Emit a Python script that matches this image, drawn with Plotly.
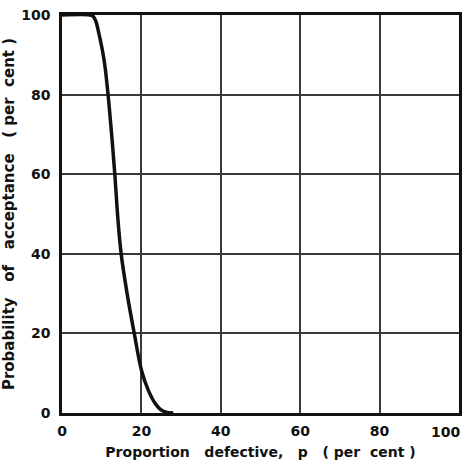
import plotly.graph_objects as go

# Proportion defective p (per cent) and probability of acceptance (per cent)
p_defective = [0, 7, 7.8, 8.5, 9.1, 10.6, 11.6, 12.5, 13.3, 14.1, 14.9, 16.4, 18.2, 20.0, 21.7, 23.4, 24.7, 26.0, 28.0]
prob_accept = [100, 100, 99.7, 98.5, 96.2, 88.7, 80, 70, 60, 48.5, 40, 30, 20, 10.8, 5.8, 2.5, 1.0, 0.3, 0]

x_ticks = [0, 20, 40, 60, 80, 100]
y_ticks = [0, 20, 40, 60, 80, 100]

fig = go.Figure()
fig.add_trace(go.Scatter(
    x=p_defective, y=prob_accept, mode="lines",
    line=dict(color="#111111", width=3.5, shape="spline", smoothing=1.0),
    showlegend=False, hoverinfo="skip"))

tick_font = dict(family="DejaVu Sans", size=14, color="#111111", weight="bold")
title_font = dict(family="DejaVu Sans", size=14, color="#111111", weight="bold")

# last x tick label right-aligned at the edge so it stays inside the picture
fig.add_annotation(x=x_ticks[-1], y=0, xref="x", yref="paper", text=str(x_ticks[-1]),
                   showarrow=False, xanchor="right", yanchor="top", xshift=3, yshift=-9,
                   font=tick_font)

fig.update_layout(
    width=463, height=468,
    margin=dict(l=62, r=4, t=15, b=55),
    paper_bgcolor="white", plot_bgcolor="white",
    xaxis=dict(range=[0, 100], tickvals=x_ticks[:-1], ticks="", showgrid=True, automargin=False,
               gridcolor="#3a3a3a", gridwidth=1.5, zeroline=False,
               showline=True, linecolor="#111111", linewidth=2.5, mirror=True,
               tickfont=tick_font, ticklabelstandoff=3,
               title=dict(text="Proportion   defective,   p   ( per  cent )", font=title_font, standoff=10)),
    yaxis=dict(range=[0, 100], tickvals=y_ticks, ticks="", showgrid=True, automargin=False,
               gridcolor="#3a3a3a", gridwidth=1.5, zeroline=False,
               showline=True, linecolor="#111111", linewidth=2.5, mirror=True,
               tickfont=tick_font, ticklabelstandoff=6, ticklabeloverflow="allow",
               title=dict(text="Probability   of   acceptance   ( per  cent )",
                          font=dict(family="DejaVu Sans", size=15, color="#111111", weight="bold"),
                          standoff=8)),
)

fig.write_html("out.html")
